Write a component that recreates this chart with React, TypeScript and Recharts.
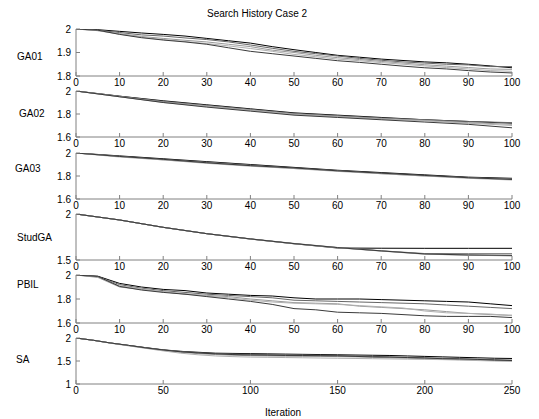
import React from 'react';
import { LineChart, Line, XAxis, YAxis } from 'recharts';

const titleText = 'Search History Case 2';
const xAxisTitle = 'Iteration';

const iterStep5 = [0, 5, 10, 15, 20, 25, 30, 35, 40, 45, 50, 55, 60, 65, 70, 75, 80, 85, 90, 95, 100];
const iterStep10 = [0, 10, 20, 30, 40, 50, 60, 70, 80, 90, 100];
const iterSA = [0, 10, 20, 30, 40, 50, 60, 70, 80, 90, 100, 110, 120, 130, 140, 150, 160, 170, 180, 190, 200, 210, 220, 230, 240, 250];
const xTicks100 = [0, 10, 20, 30, 40, 50, 60, 70, 80, 90, 100];
const xTicks250 = [0, 50, 100, 150, 200, 250];

const ga01Runs = [
  [2, 1.997, 1.99, 1.983, 1.977, 1.97, 1.96, 1.95, 1.94, 1.925, 1.912, 1.9, 1.888, 1.88, 1.872, 1.866, 1.86, 1.856, 1.85, 1.843, 1.835],
  [2, 1.995, 1.985, 1.975, 1.97, 1.962, 1.955, 1.945, 1.932, 1.918, 1.905, 1.895, 1.885, 1.875, 1.867, 1.86, 1.855, 1.85, 1.847, 1.84, 1.84],
  [2, 1.993, 1.98, 1.968, 1.96, 1.952, 1.945, 1.935, 1.925, 1.91, 1.9, 1.888, 1.878, 1.87, 1.862, 1.855, 1.848, 1.842, 1.836, 1.83, 1.828],
  [2, 1.993, 1.978, 1.965, 1.955, 1.947, 1.938, 1.928, 1.917, 1.905, 1.892, 1.882, 1.872, 1.865, 1.857, 1.85, 1.843, 1.836, 1.83, 1.823, 1.82],
  [2, 1.995, 1.977, 1.963, 1.953, 1.945, 1.935, 1.92, 1.905, 1.895, 1.885, 1.875, 1.865, 1.858, 1.85, 1.842, 1.835, 1.83, 1.823, 1.817, 1.813],
];

const ga02Runs = [
  [2, 1.955, 1.915, 1.88, 1.845, 1.81, 1.79, 1.77, 1.75, 1.735, 1.72],
  [2, 1.955, 1.91, 1.875, 1.84, 1.805, 1.785, 1.765, 1.75, 1.735, 1.725],
  [2, 1.95, 1.905, 1.87, 1.835, 1.8, 1.78, 1.76, 1.745, 1.725, 1.71],
  [2, 1.95, 1.9, 1.865, 1.83, 1.795, 1.775, 1.755, 1.74, 1.72, 1.7],
  [2, 1.95, 1.9, 1.86, 1.825, 1.79, 1.77, 1.75, 1.73, 1.71, 1.68],
];

const ga03Runs = [
  [2, 1.975, 1.95, 1.925, 1.9, 1.875, 1.85, 1.83, 1.81, 1.79, 1.78],
  [2, 1.97, 1.945, 1.92, 1.895, 1.87, 1.845, 1.825, 1.805, 1.785, 1.775],
  [2, 1.97, 1.94, 1.915, 1.89, 1.865, 1.845, 1.82, 1.8, 1.785, 1.77],
  [2, 1.965, 1.94, 1.91, 1.885, 1.865, 1.84, 1.82, 1.8, 1.78, 1.765],
  [2, 1.97, 1.945, 1.915, 1.89, 1.87, 1.845, 1.825, 1.805, 1.785, 1.77],
];

const studGARuns = [
  [2, 1.935, 1.855, 1.786, 1.728, 1.677, 1.63, 1.628, 1.627, 1.627, 1.627],
  [2, 1.935, 1.855, 1.787, 1.73, 1.68, 1.636, 1.6, 1.57, 1.568, 1.568],
  [2, 1.935, 1.856, 1.786, 1.728, 1.676, 1.634, 1.598, 1.565, 1.552, 1.545],
  [2, 1.934, 1.854, 1.785, 1.727, 1.676, 1.633, 1.597, 1.563, 1.553, 1.547],
  [2, 1.935, 1.855, 1.786, 1.729, 1.678, 1.635, 1.599, 1.566, 1.555, 1.55],
];

const pbilRuns = [
  [2, 1.99, 1.93, 1.9, 1.88, 1.87, 1.85, 1.84, 1.83, 1.825, 1.81, 1.8, 1.8, 1.8, 1.795, 1.79, 1.785, 1.78, 1.775, 1.76, 1.745],
  [2, 1.985, 1.92, 1.89, 1.87, 1.855, 1.84, 1.83, 1.82, 1.81, 1.79, 1.785, 1.78, 1.775, 1.77, 1.765, 1.76, 1.75, 1.74, 1.73, 1.72],
  [2, 1.98, 1.9, 1.88, 1.86, 1.84, 1.83, 1.82, 1.8, 1.785, 1.77, 1.765, 1.76, 1.74, 1.73, 1.72, 1.71, 1.695, 1.68, 1.67, 1.665],
  [2, 1.985, 1.91, 1.885, 1.86, 1.845, 1.825, 1.81, 1.79, 1.775, 1.765, 1.76, 1.755, 1.745, 1.735, 1.725, 1.7, 1.685, 1.68, 1.675, 1.66],
  [2, 1.988, 1.905, 1.875, 1.855, 1.84, 1.82, 1.8, 1.78, 1.755, 1.72, 1.71, 1.69, 1.685, 1.68, 1.67, 1.66, 1.655, 1.655, 1.655, 1.645],
];

const saRuns = [
  [2, 1.95, 1.89, 1.84, 1.79, 1.74, 1.71, 1.69, 1.67, 1.665, 1.66, 1.655, 1.65, 1.645, 1.64, 1.635, 1.63, 1.625, 1.62, 1.61, 1.6, 1.59, 1.58, 1.57, 1.56, 1.555],
  [2, 1.95, 1.89, 1.84, 1.79, 1.745, 1.71, 1.68, 1.66, 1.65, 1.645, 1.64, 1.635, 1.63, 1.625, 1.62, 1.61, 1.6, 1.59, 1.58, 1.57, 1.56, 1.55, 1.54, 1.53, 1.52],
  [2, 1.95, 1.89, 1.835, 1.78, 1.73, 1.69, 1.66, 1.64, 1.625, 1.615, 1.61, 1.605, 1.6, 1.6, 1.595, 1.59, 1.58, 1.57, 1.56, 1.55, 1.54, 1.53, 1.52, 1.51, 1.5],
  [2, 1.95, 1.885, 1.83, 1.775, 1.72, 1.67, 1.635, 1.61, 1.595, 1.585, 1.58, 1.575, 1.57, 1.565, 1.56, 1.555, 1.55, 1.545, 1.54, 1.535, 1.53, 1.52, 1.51, 1.5, 1.495],
  [2, 1.95, 1.89, 1.84, 1.785, 1.74, 1.7, 1.675, 1.655, 1.64, 1.63, 1.625, 1.62, 1.62, 1.615, 1.61, 1.6, 1.59, 1.585, 1.575, 1.565, 1.55, 1.545, 1.535, 1.52, 1.51],
];

const panelNames = ['GA01', 'GA02', 'GA03', 'StudGA', 'PBIL', 'SA'];
const panelRuns = [ga01Runs, ga02Runs, ga03Runs, studGARuns, pbilRuns, saRuns];
const panelIters = [iterStep5, iterStep10, iterStep10, iterStep10, iterStep5, iterSA];
const panelXTicks = [xTicks100, xTicks100, xTicks100, xTicks100, xTicks100, xTicks250];
const panelXMax = [100, 100, 100, 100, 100, 250];
const panelYDomains = [[1.8, 2], [1.6, 2], [1.6, 2], [1.5, 2], [1.6, 2], [1, 2]];
const panelYTicks = [[1.8, 1.9, 2], [1.6, 1.8, 2], [1.6, 1.8, 2], [1.5, 2], [1.6, 1.8, 2], [1, 1.5, 2]];

// layout (pixels)
const layout = [
  { top: 29, bottom: 76, labelX: 17, labelY: 57 },
  { top: 91, bottom: 137, labelX: 19, labelY: 114 },
  { top: 153, bottom: 199, labelX: 15, labelY: 169 },
  { top: 214, bottom: 260, labelX: 17, labelY: 238 },
  { top: 275, bottom: 323, labelX: 17, labelY: 285 },
  { top: 338, bottom: 384, labelX: 16, labelY: 360 },
];

const lineColors = ['#000000', '#666666', '#999999', '#b0b0b0', '#3a3a3a'];
const axisColor = '#808080';
const fontFamily = '"Liberation Sans", Arial, Helvetica, sans-serif';

function Panel({ idx }: { idx: number }) {
  const lay = layout[idx];
  const runs = panelRuns[idx];
  const data = panelIters[idx].map((x, i) => {
    const row: Record<string, number> = { x };
    runs.forEach((r, j) => {
      row['r' + j] = r[i];
    });
    return row;
  });
  const mt = 5;
  const xh = 18;
  const h = mt + (lay.bottom - lay.top) + xh;
  return (
    <div style={{ position: 'absolute', left: 0, top: lay.top - mt }}>
      <LineChart width={539} height={h} data={data} margin={{ top: mt, right: 27, bottom: 0, left: 0 }}>
        <XAxis
          dataKey="x"
          type="number"
          domain={[0, panelXMax[idx]]}
          ticks={panelXTicks[idx]}
          interval={0}
          height={xh}
          tickSize={-4}
          tickMargin={7}
          stroke={axisColor}
          tick={{ fill: '#000', fontSize: 10, fontFamily }}
          allowDataOverflow
        />
        <YAxis
          type="number"
          domain={panelYDomains[idx]}
          ticks={panelYTicks[idx]}
          interval={0}
          width={76}
          tickSize={-4}
          tickMargin={9}
          stroke={axisColor}
          tick={{ fill: '#000', fontSize: 10, fontFamily }}
          allowDataOverflow
        />
        {runs.map((_, j) => (
          <Line
            key={j}
            dataKey={'r' + j}
            type="linear"
            stroke={lineColors[j]}
            strokeWidth={1}
            dot={false}
            activeDot={false}
            isAnimationActive={false}
          />
        ))}
      </LineChart>
      <div
        style={{
          position: 'absolute',
          left: lay.labelX,
          top: lay.labelY - lay.top + mt - 6,
          fontSize: 10,
          fontFamily,
          lineHeight: '12px',
          color: '#000',
          whiteSpace: 'nowrap',
        }}
      >
        {panelNames[idx]}
      </div>
    </div>
  );
}

export default function App() {
  return (
    <div
      style={{
        position: 'absolute',
        left: 0,
        top: 0,
        width: 539,
        height: 419,
        background: '#fff',
        overflow: 'hidden',
        fontFamily,
      }}
    >
      <div
        style={{
          position: 'absolute',
          left: 207,
          top: 8,
          fontSize: 10,
          lineHeight: '12px',
          color: '#000',
          whiteSpace: 'nowrap',
        }}
      >
        {titleText}
      </div>
      {layout.map((_, i) => (
        <Panel key={i} idx={i} />
      ))}
      <div
        style={{
          position: 'absolute',
          left: 265,
          top: 407,
          fontSize: 10,
          lineHeight: '12px',
          color: '#000',
          whiteSpace: 'nowrap',
        }}
      >
        {xAxisTitle}
      </div>
    </div>
  );
}
